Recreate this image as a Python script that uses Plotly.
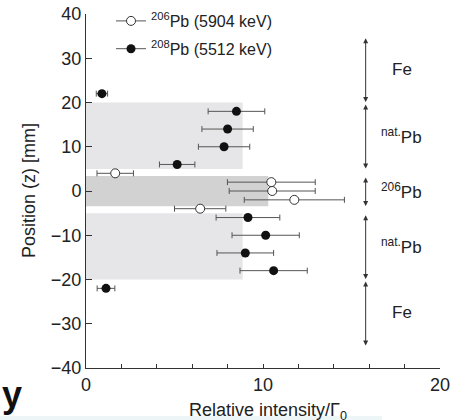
import plotly.graph_objects as go

# ---- data ----
pb208_x = [0.9, 8.5, 8.0, 7.8, 5.15, 9.15, 10.15, 9.0, 10.6, 1.13]
pb208_y = [22, 18, 14, 10, 6, -6, -10, -14, -18, -22]
pb208_err = [0.32, 1.6, 1.45, 1.45, 1.0, 1.8, 1.9, 1.6, 1.9, 0.5]

pb206_x = [1.65, 10.47, 10.52, 11.77, 6.45]
pb206_y = [4, 2, 0, -2, -4]
pb206_err = [1.03, 2.48, 2.43, 2.83, 1.45]

# shaded sample regions: (bottom, top, right edge, colour key)
band_bottom = [5, -3.45, -20]
band_top = [20, 3.4, -5]
band_right = [8.85, 10.3, 8.85]
band_kind = ["light", "dark", "light"]

# material regions on the right
region_labels = ["Fe", "<sup>nat.</sup>Pb", "<sup>206</sup>Pb", "<sup>nat.</sup>Pb", "Fe"]
region_top = [35, 20, 3.5, -5, -20]
region_bottom = [20, 5, -3.5, -20, -35]
region_arrow_x = 15.8
region_label_x = 17.85

x_tickvals = list(range(0, 21, 2))
x_ticktext = ["0" if v == 0 else ("10" if v == 10 else ("20" if v == 20 else "")) for v in x_tickvals]
y_tickvals = [-40, -30, -20, -10, 0, 10, 20, 30, 40]

FONT = "Liberation Sans, Arial, sans-serif"
INK = "#222222"
AXIS = "#333333"
ERR = "#555555"

fig = go.Figure()

fig.add_trace(go.Scatter(
    x=pb206_x, y=pb206_y, mode="markers", showlegend=False,
    error_x=dict(type="data", array=pb206_err, color=ERR, thickness=1, width=3),
    marker=dict(symbol="circle", size=9, color="white", line=dict(color=AXIS, width=1)),
))
fig.add_trace(go.Scatter(
    x=pb208_x, y=pb208_y, mode="markers", showlegend=False,
    error_x=dict(type="data", array=pb208_err, color=ERR, thickness=1, width=3),
    marker=dict(symbol="circle", size=9, color="#111111"),
))

# legend entries
fig.add_trace(go.Scatter(
    x=[None], y=[None], mode="lines+markers", name="<sup>206</sup>Pb (5904 keV)",
    line=dict(color=ERR, width=1), legendgroup="a",
    marker=dict(symbol="circle", size=9, color="white", line=dict(color=AXIS, width=1)),
))
fig.add_trace(go.Scatter(
    x=[None], y=[None], mode="lines+markers", name="<sup>208</sup>Pb (5512 keV)",
    line=dict(color=ERR, width=1), legendgroup="b",
    marker=dict(symbol="circle", size=9, color="#111111"),
))

shapes = []
for b, t, r, k in zip(band_bottom, band_top, band_right, band_kind):
    shapes.append(dict(type="rect", xref="x", yref="y", x0=0, x1=r, y0=b, y1=t,
                       fillcolor="#e6e6e8" if k == "light" else "#d2d2d3",
                       line=dict(width=0), layer="below"))

# cropped page strip at the bottom
L, R, T, B = 86, 16, 14, 52
PW, PH = 456 - L - R, 420 - T - B
def px_x(p):
    return (p - L) / PW
def px_y(p):
    return (420 - B - p) / PH
shapes.append(dict(type="rect", xref="paper", yref="paper",
                   x0=px_x(-2), x1=px_x(382), y0=px_y(422), y1=px_y(416),
                   fillcolor="#eef5f7", line=dict(width=0), layer="above"))

annotations = []
for lab, t, b in zip(region_labels, region_top, region_bottom):
    annotations.append(dict(x=region_arrow_x, y=b, ax=region_arrow_x, ay=t,
                            xref="x", yref="y", axref="x", ayref="y", text="",
                            showarrow=True, arrowhead=2, startarrowhead=2,
                            arrowside="end+start", arrowsize=1, startarrowsize=1,
                            arrowwidth=1, arrowcolor=AXIS, standoff=0.5, startstandoff=0.5))
    annotations.append(dict(x=region_label_x, y=(t + b) / 2, xref="x", yref="y",
                            text=lab, showarrow=False,
                            font=dict(family=FONT, size=17, color=INK)))

# axis end arrows
annotations.append(dict(x=0, y=40.9, xref="x", yref="y", ax=0, ay=14, text="",
                        showarrow=True, arrowhead=2, arrowsize=1, arrowwidth=1, arrowcolor=AXIS))
annotations.append(dict(x=20.3, y=-40, xref="x", yref="y", ax=-14, ay=0, text="",
                        showarrow=True, arrowhead=2, arrowsize=1, arrowwidth=1, arrowcolor=AXIS))

# axis titles
annotations.append(dict(x=px_x(29), y=0.5, xref="paper", yref="paper",
                        text="Position (z) [mm]", textangle=-90, showarrow=False,
                        xanchor="center", yanchor="middle",
                        font=dict(family=FONT, size=18, color=INK)))
annotations.append(dict(x=px_x(268), y=px_y(398), xref="paper", yref="paper",
                        text="Relative intensity/Γ<sub>0</sub>", showarrow=False,
                        xanchor="center", yanchor="top",
                        font=dict(family=FONT, size=18, color=INK)))

# cropped glyph at bottom-left of the page
annotations.append(dict(x=px_x(12), y=px_y(394), xref="paper", yref="paper", text="<b>y</b>",
                        showarrow=False, font=dict(family=FONT, size=36, color="#111111"),
                        xanchor="center", yanchor="middle"))

fig.update_layout(
    width=456, height=420,
    margin=dict(l=L, r=R, t=T, b=B, autoexpand=False),
    paper_bgcolor="white", plot_bgcolor="white",
    font=dict(family=FONT, size=18, color=INK),
    shapes=shapes, annotations=annotations,
    legend=dict(x=px_x(111), y=px_y(4), xanchor="left", yanchor="top",
                bgcolor="rgba(0,0,0,0)", font=dict(family=FONT, size=16, color=INK),
                tracegroupgap=4, itemwidth=30),
    xaxis=dict(range=[0, 20], tickvals=x_tickvals, ticktext=x_ticktext,
               ticks="inside", ticklen=4, tickcolor=AXIS, showline=True, linecolor=AXIS,
               linewidth=1, showgrid=False, zeroline=False, automargin=False,
               tickfont=dict(family=FONT, size=18, color=INK)),
    yaxis=dict(range=[-40, 40], tickvals=y_tickvals,
               ticks="inside", ticklen=6, tickcolor=AXIS, showline=True, linecolor=AXIS,
               linewidth=1, showgrid=False, zeroline=False, automargin=False,
               tickfont=dict(family=FONT, size=18, color=INK)),
)

fig.write_html("out.html", config={"displayModeBar": False},
               post_script="document.body.style.margin='0';")
